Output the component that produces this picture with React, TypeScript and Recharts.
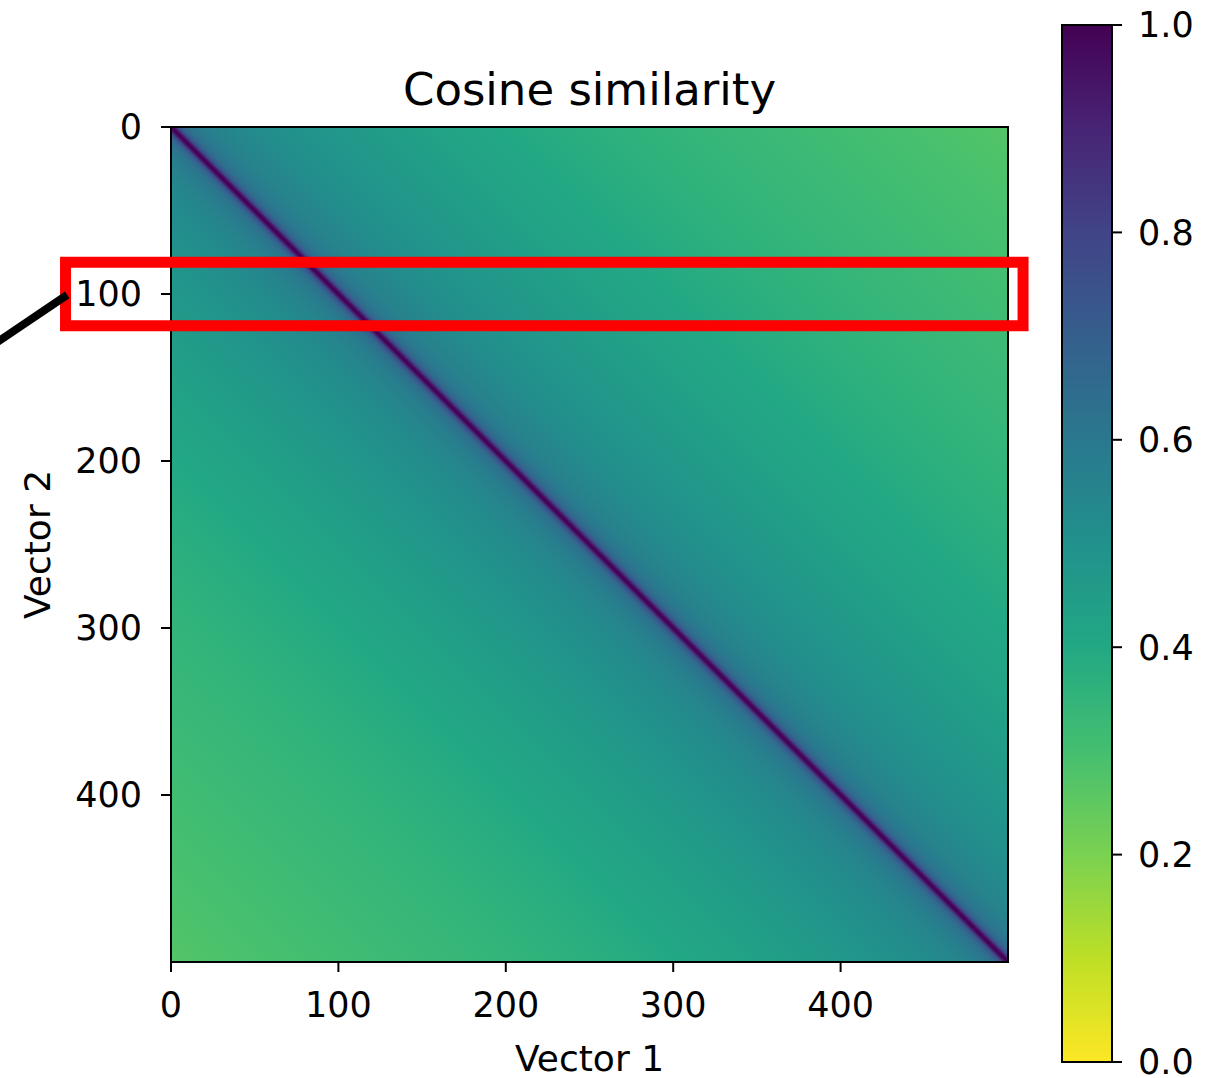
import {
  ComposedChart,
  Area,
  XAxis,
  YAxis,
  ReferenceArea,
  ReferenceLine,
  BarChart,
  Bar,
} from 'recharts';

const MATRIX_SIZE = 500;
const AXIS_TICKS = [0, 100, 200, 300, 400];

// similarity between vector i and vector j, depends only on |i - j|
const OFFSETS = [0, 1, 2, 3, 4, 6, 8, 12, 18, 25, 35, 50, 75, 100, 150, 200, 250, 300, 350, 400, 450, 500];
const SIMILARITY = [1.0, 0.98, 0.92, 0.83, 0.76, 0.69, 0.65, 0.61, 0.58, 0.56, 0.54, 0.52, 0.49, 0.47, 0.43, 0.4, 0.37, 0.35, 0.33, 0.31, 0.29, 0.27];

const COLORBAR_TICKS = [0, 0.2, 0.4, 0.6, 0.8, 1.0];
const COLORBAR_RANGE = [0, 1];

// red highlight around row ~100 and the leader line going off to the left
const HIGHLIGHT_COLS = [-63, 509];
const HIGHLIGHT_ROWS = [81, 119];
const LEADER = [
  { x: -110, y: 133 },
  { x: -62, y: 100.5 },
];

// viridis, sampled at 0.0, 0.1, ... 1.0
const VIRIDIS = [
  '#440154', '#482475', '#414487', '#355f8d', '#2a788e', '#21918c',
  '#22a884', '#44bf70', '#7ad151', '#bddf26', '#fde725',
];

function hexToRgb(hex: string) {
  const n = parseInt(hex.slice(1), 16);
  return [(n >> 16) & 255, (n >> 8) & 255, n & 255];
}

function viridis(t: number) {
  const c = Math.min(Math.max(t, 0), 1) * (VIRIDIS.length - 1);
  const i = Math.min(Math.floor(c), VIRIDIS.length - 2);
  const f = c - i;
  const a = hexToRgb(VIRIDIS[i]);
  const b = hexToRgb(VIRIDIS[i + 1]);
  const rgb = a.map((v, k) => Math.round(v + (b[k] - v) * f));
  return `rgb(${rgb.join(',')})`;
}

// reversed colormap: 1.0 -> dark purple, 0.0 -> yellow
const simColor = (s: number) => viridis(1 - s);

const matrixData = [
  { col: 0, rows: [0, MATRIX_SIZE] },
  { col: MATRIX_SIZE, rows: [0, MATRIX_SIZE] },
];

// gradient runs from bottom-left corner (col - row = -N) to top-right (col - row = +N)
const lowerStops = OFFSETS.map((d, i) => ({
  offset: 0.5 - d / (2 * MATRIX_SIZE),
  color: simColor(SIMILARITY[i]),
})).reverse();
const upperStops = OFFSETS.map((d, i) => ({
  offset: 0.5 + d / (2 * MATRIX_SIZE),
  color: simColor(SIMILARITY[i]),
})).slice(1);
const matrixStops = [...lowerStops, ...upperStops];

const colorbarData = [{ name: 'similarity', value: COLORBAR_RANGE[1] }];

const tickStyle = { fill: '#000', fontSize: 35 };

function HeatmapChart() {
  return (
    <ComposedChart
      width={1040}
      height={1078}
      data={matrixData}
      margin={{ top: 127, right: 32, bottom: 0, left: 0 }}
    >
      <defs>
        <linearGradient id="simGrad" x1="0" y1="1" x2="1" y2="0">
          {matrixStops.map((s, i) => (
            <stop key={i} offset={s.offset} stopColor={s.color} />
          ))}
        </linearGradient>
      </defs>
      <XAxis
        type="number"
        dataKey="col"
        domain={[0, MATRIX_SIZE]}
        ticks={AXIS_TICKS}
        interval={0}
        allowDataOverflow
        height={116}
        axisLine={false}
        tickSize={10}
        tickMargin={20}
        tickLine={{ stroke: '#000', strokeWidth: 2 }}
        tick={tickStyle}
        label={{ value: 'Vector 1', position: 'insideBottom', offset: 7, fill: '#000', fontSize: 36 }}
      />
      <YAxis
        type="number"
        domain={[0, MATRIX_SIZE]}
        reversed
        ticks={AXIS_TICKS}
        interval={0}
        allowDataOverflow
        width={171}
        axisLine={false}
        tickSize={10}
        tickMargin={19}
        tickLine={{ stroke: '#000', strokeWidth: 2 }}
        tick={tickStyle}
        label={{
          value: 'Vector 2',
          angle: -90,
          position: 'insideLeft',
          offset: 37,
          fill: '#000',
          fontSize: 36,
          style: { textAnchor: 'middle' },
        }}
      />
      <Area
        type="linear"
        dataKey="rows"
        stroke="none"
        fill="url(#simGrad)"
        fillOpacity={1}
        isAnimationActive={false}
      />
      <ReferenceArea
        x1={0}
        x2={MATRIX_SIZE}
        y1={0}
        y2={MATRIX_SIZE}
        fill="none"
        stroke="#000"
        strokeWidth={2}
        ifOverflow="visible"
        zIndex={1000}
      />
      <ReferenceArea
        x1={HIGHLIGHT_COLS[0]}
        x2={HIGHLIGHT_COLS[1]}
        y1={HIGHLIGHT_ROWS[0]}
        y2={HIGHLIGHT_ROWS[1]}
        fill="none"
        fillOpacity={0}
        stroke="#ff0000"
        strokeWidth={11}
        ifOverflow="visible"
        zIndex={1000}
      />
      <ReferenceLine
        segment={LEADER}
        stroke="#000"
        strokeWidth={8}
        ifOverflow="visible"
        zIndex={1000}
      />
      <text x={589.5} y={105} textAnchor="middle" fontSize={45} fill="#000">
        Cosine similarity
      </text>
    </ComposedChart>
  );
}

function Colorbar() {
  return (
    <BarChart
      width={166}
      height={1078}
      data={colorbarData}
      margin={{ top: 25, right: 0, bottom: 16, left: 22 }}
      barCategoryGap={0}
    >
      <defs>
        <linearGradient id="cbGrad" x1="0" y1="0" x2="0" y2="1">
          {VIRIDIS.map((c, i) => (
            <stop key={c} offset={i / (VIRIDIS.length - 1)} stopColor={c} />
          ))}
        </linearGradient>
      </defs>
      <XAxis dataKey="name" hide />
      <YAxis
        orientation="right"
        type="number"
        domain={COLORBAR_RANGE}
        ticks={COLORBAR_TICKS}
        interval={0}
        width={94}
        axisLine={false}
        tickSize={10}
        tickMargin={16}
        tickLine={{ stroke: '#000', strokeWidth: 2 }}
        tick={tickStyle}
        tickFormatter={(v: number) => v.toFixed(1)}
      />
      <Bar
        dataKey="value"
        fill="url(#cbGrad)"
        stroke="#000"
        strokeWidth={2}
        isAnimationActive={false}
      />
    </BarChart>
  );
}

export default function App() {
  return (
    <div
      style={{
        position: 'absolute',
        left: 0,
        top: 0,
        width: 1206,
        height: 1078,
        background: '#fff',
        fontFamily: '"DejaVu Sans", sans-serif',
      }}
    >
      <div style={{ position: 'absolute', left: 0, top: 0 }}>
        <HeatmapChart />
      </div>
      <div style={{ position: 'absolute', left: 1040, top: 0 }}>
        <Colorbar />
      </div>
    </div>
  );
}
